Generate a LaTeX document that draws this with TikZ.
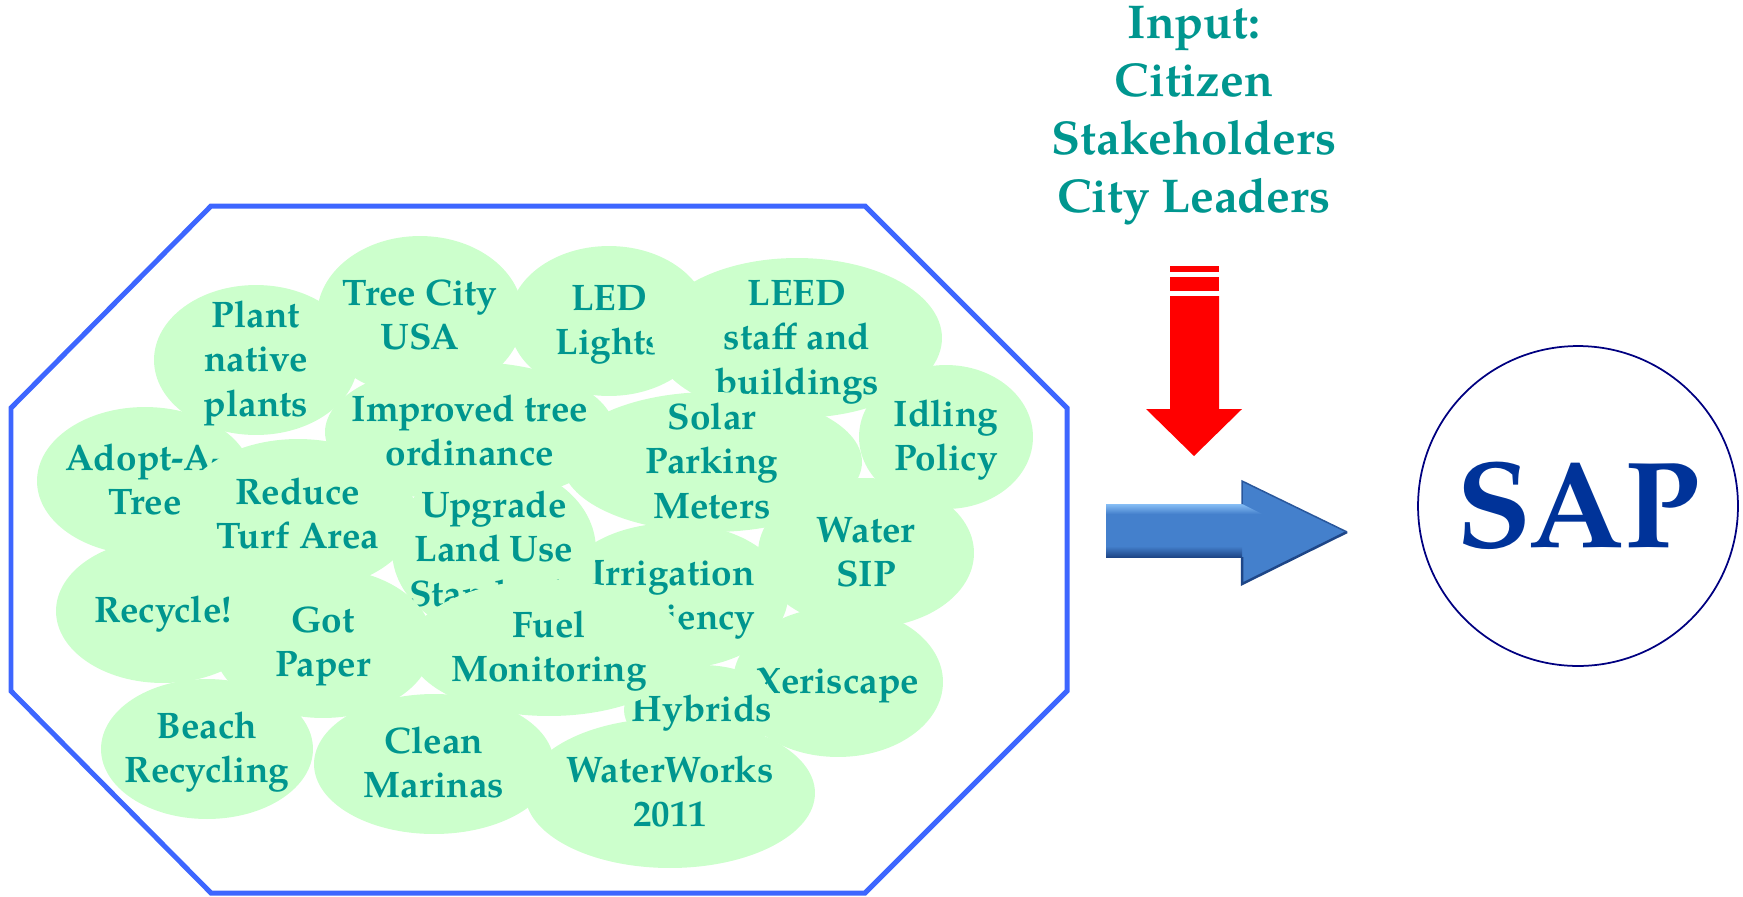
\documentclass[tikz,border=0pt]{standalone}
\usepackage{fontspec}
\setmainfont{texgyrepagella}[Extension=.otf, UprightFont=*-regular, BoldFont=*-bold, ItalicFont=*-italic, BoldItalicFont=*-bolditalic]
\usepackage{tikz}
\usetikzlibrary{shapes.geometric}
\usepackage{xcolor}
\definecolor{bubbleGreen}{RGB}{204, 255, 204}
\definecolor{tealText}{RGB}{0, 150, 143}
\definecolor{octBlue}{RGB}{61, 102, 255}
\definecolor{sapBlue}{RGB}{0, 51, 153}
\definecolor{ringNavy}{RGB}{0, 0, 128}
\definecolor{arrowLight}{RGB}{135, 190, 245}
\definecolor{arrowMid}{RGB}{68, 128, 204}
\definecolor{arrowDark}{RGB}{30, 70, 135}

% text of a bubble: takes no room, so the ellipse keeps its own size
\newcommand{\bub}[1]{\smash{\makebox[0pt]{\raisebox{-6.8pt}{\begin{tabular}{@{}c@{}}#1\end{tabular}}}}}

\begin{document}
\begin{tikzpicture}
    [
        x=0.02cm, y=-0.02cm,
        bubble/.style={
            ellipse, fill=bubbleGreen, inner sep=0pt, text=tealText,
            font=\fontsize{21}{25.3}\selectfont\bfseries
        },
        inputtext/.style={
            align=center, text=tealText,
            font=\fontsize{27}{33}\selectfont\bfseries
        }
    ]

\useasboundingbox (0,0) rectangle (1743,896);

% Frame
\draw[octBlue, line width=0.1cm, line join=miter]
    (211,206) -- (865,206) -- (1067,408) -- (1067,691) -- (865,893)
    -- (211,893) -- (11,691) -- (11,408) -- cycle;

% Bubbles
\node (adopt) [
        bubble, minimum width=4.32cm, minimum height=2.96cm
    ] at (145,481) {\bub{Adopt-A-\\Tree}};

\node (plant) [
        bubble, minimum width=4.08cm, minimum height=3cm
    ] at (256,360) {\bub{Plant\\native\\plants}};

\node (tree-city) [
        bubble, minimum width=4.12cm, minimum height=3.2cm
    ] at (420,316) {\bub{Tree City\\USA}};

\node (led) [
        bubble, minimum width=4cm, minimum height=3cm
    ] at (609,321) {\bub{LED\\Lights}};

\node (leed) [
        bubble, minimum width=5.8cm, minimum height=3.2cm
    ] at (797,338) {\bub{LEED\\staff and\\buildings}};

\node (solar) [
        bubble, minimum width=6cm, minimum height=2.8cm
    ] at (712,462) {\bub{Solar\\Parking\\Meters}};

\node (improved) [
        bubble, minimum width=5.8cm, minimum height=2.8cm
    ] at (470,432) {\bub{Improved tree\\ordinance}};

\node (irrigation) [
        bubble, minimum width=4.6cm, minimum height=2.92cm
    ] at (673,596) {\bub{Irrigation\\Efficiency}};

\node (upgrade) [
        bubble, minimum width=4.08cm, minimum height=3.4cm
    ] at (494,550) {\bub{Upgrade\\Land Use\\Standards}};

\node (reduce) [
        bubble, minimum width=4.72cm, minimum height=3.04cm
    ] at (298,515) {\bub{Reduce\\Turf Area}};

\node (water) [
        bubble, minimum width=4.32cm, minimum height=3cm
    ] at (866,553) {\bub{Water\\SIP}};

\node (idling) [
        bubble, minimum width=3.48cm, minimum height=2.88cm
    ] at (946,437) {\bub{Idling\\Policy}};

\node (got-paper) [
        bubble, minimum width=4.4cm, minimum height=3cm
    ] at (323,643) {\bub{Got\\Paper}};

\node (recycle) [
        bubble, minimum width=4.28cm, minimum height=2.88cm
    ] at (163,611) {\bub{Recycle!}};

\node (xeriscape) [
        bubble, minimum width=4.2cm, minimum height=3cm
    ] at (838,682) {\bub{Xeriscape}};

\node (beach) [
        bubble, minimum width=4.24cm, minimum height=2.8cm
    ] at (207,749) {\bub{Beach\\Recycling}};

\node (clean) [
        bubble, minimum width=4.8cm, minimum height=2.8cm
    ] at (434,764) {\bub{Clean\\Marinas}};

\node (waterworks) [
        bubble, minimum width=5.8cm, minimum height=3cm
    ] at (670,793) {\bub{WaterWorks\\2011}};

\node (hybrids) [
        bubble, minimum width=3.12cm, minimum height=1.8cm
    ] at (702,710) {\bub{Hybrids}};

\node (fuel) [
        bubble, minimum width=5.6cm, minimum height=2.72cm
    ] at (549,648) {\bub{Fuel\\Monitoring}};

% Input and result
\node (input) [inputtext] at (1194,116)
    {Input:\\Citizen\\Stakeholders\\City Leaders};

\node (sap) [
        circle, draw=ringNavy, line width=0.035cm, minimum size=6.4cm,
        text=sapBlue, font=\fontsize{70}{74}\selectfont\bfseries
    ] at (1578,506) {SAP};

% Red arrow
\fill[red] (1170,266) rectangle (1219,272);
\fill[red] (1170,277) rectangle (1219,291);
\fill[red] (1170,296) -- (1219,296) -- (1219,409) -- (1242,409)
    -- (1194,456) -- (1146,409) -- (1170,409) -- cycle;

% Blue arrow
\fill[arrowMid]
    (1106,504) -- (1242,504) -- (1242,481) -- (1347,532) -- (1242,584)
    -- (1242,557) -- (1106,557) -- cycle;
\shade[top color=arrowLight, bottom color=arrowMid]
    (1106,504) -- (1242,504) -- (1262,514) -- (1106,514) -- cycle;
\shade[top color=arrowMid, bottom color=arrowDark]
    (1106,546) -- (1242,546) -- (1242,557) -- (1106,557) -- cycle;
\draw[arrowDark, line width=0.05cm]
    (1242,557) -- (1242,584) -- (1347,532);
\draw[arrowDark!70!arrowMid, line width=0.03cm]
    (1242,504) -- (1242,481) -- (1347,532);

\end{tikzpicture}
\end{document}
